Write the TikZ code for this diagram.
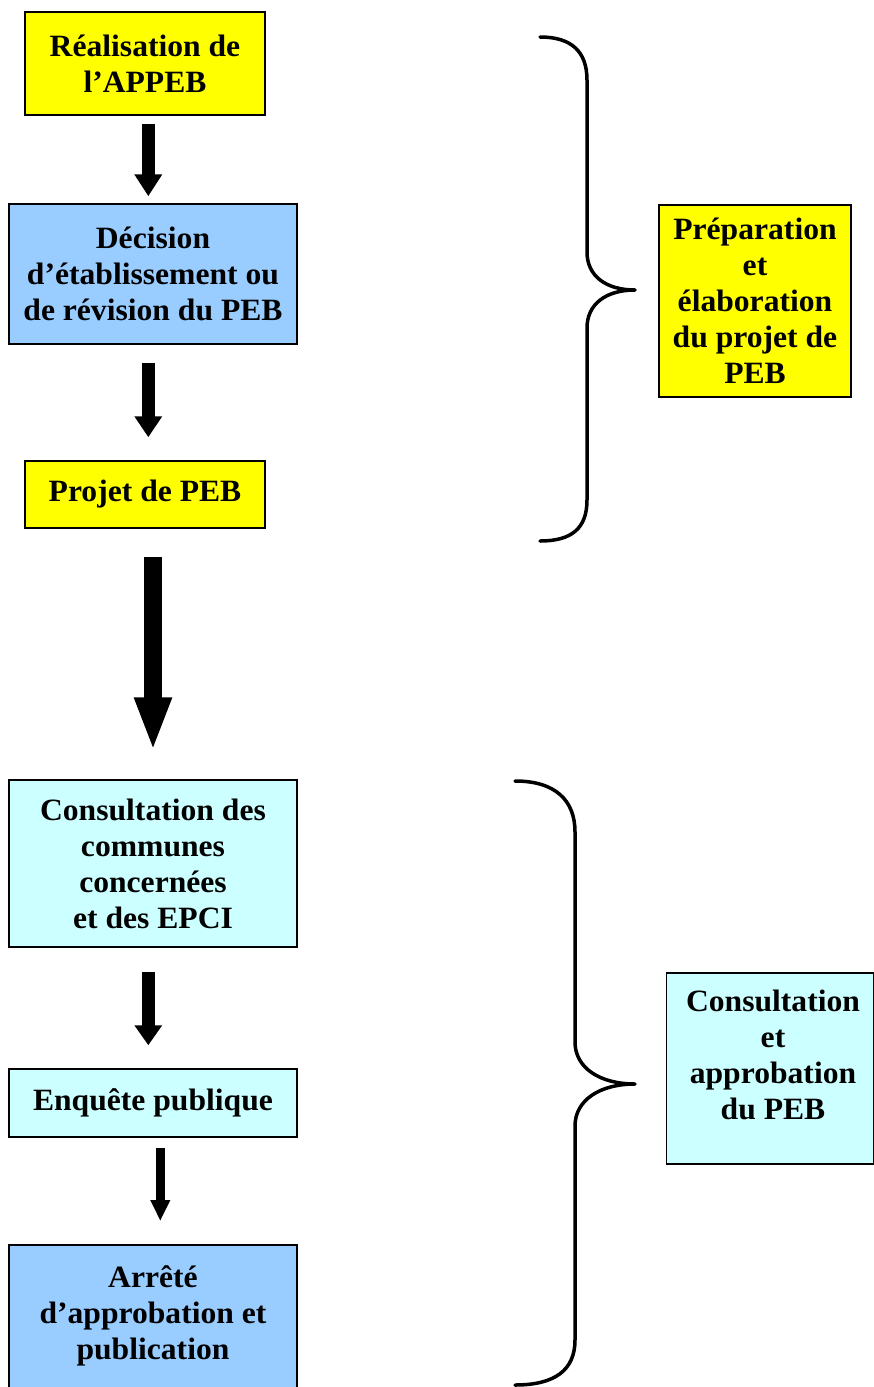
\documentclass[tikz,border=0pt]{standalone}
\usepackage{fontspec}
\setmainfont[FakeStretch=1.02]{Liberation Serif}
\usetikzlibrary{arrows.meta}
\definecolor{cyel}{HTML}{FFFF00}
\definecolor{cblue}{HTML}{99CCFF}
\definecolor{ccyan}{HTML}{CCFFFF}
\tikzset{
  box/.style={draw=black, line width=1.5pt, inner sep=0pt, align=center,
    font=\fontsize{31}{36}\selectfont\bfseries},
  txt/.style={inner sep=0pt, align=center, font=\fontsize{31}{36}\selectfont\bfseries},
  brace/.style={draw=black, line width=3.5pt, line cap=round, line join=round}
}
\begin{document}
\begin{tikzpicture}[x=1pt,y=-1pt]
\useasboundingbox (0,0) rectangle (873,1387);

% left column boxes
\node[box, fill=cyel, minimum width=240, minimum height=103] (b1) at (145,63.5)
  {Réalisation de\\l’APPEB};
\node[box, fill=cblue, minimum width=288, minimum height=140] (b2) at (153,274)
  {Décision\\d’établissement ou\\de révision du PEB};
\node[box, fill=cyel, minimum width=240, minimum height=67] (b3) at (145,494.5)
  {Projet de PEB};
\node[box, fill=ccyan, minimum width=288, minimum height=167] (b4) at (153,863.5)
  {Consultation des\\communes\\concernées\\et des EPCI};
\node[box, fill=ccyan, minimum width=288, minimum height=68] (b5) at (153,1103)
  {Enquête publique};
\node[box, fill=cblue, minimum width=288, minimum height=160, anchor=north] (b6) at (153,1244) {};
\node[txt] (b6t) at (153,1316) {Arrêté\\d’approbation et\\publication};

% right boxes
\node[box, fill=cyel, minimum width=192, minimum height=192] (r1) at (755,301)
  {Préparation\\et\\élaboration\\du projet de\\PEB};
\node[box, fill=ccyan, minimum width=207, minimum height=191, anchor=north west] (r2) at (665.5,972) {};
\node[txt] (r2t) at (773,1055) {Consultation\\et\\approbation\\du PEB};

% block arrows
\draw[line width=13.5pt, -{Triangle[width=26.5pt,length=22pt]}]
  ([xshift=3.3pt,yshift=-8pt]b1.south) -- ([xshift=-4.7pt,yshift=7pt]b2.north);
\draw[line width=13.5pt, -{Triangle[width=26.5pt,length=21pt]}]
  ([xshift=-4.7pt,yshift=-18pt]b2.south) -- ([xshift=3.3pt,yshift=23pt]b3.north);
\draw[line width=18pt, -{Triangle[width=34pt,length=54pt]}]
  ([xshift=8pt,yshift=-28pt]b3.south) -- ([yshift=28pt]b4.north);
\draw[line width=13.5pt, -{Triangle[width=26.5pt,length=20pt]}]
  ([xshift=-4.7pt,yshift=-24pt]b4.south) -- ([xshift=-4.7pt,yshift=23pt]b5.north);
\draw[line width=9.5pt, -{Triangle[width=18.5pt,length=21pt]}]
  ([xshift=7.3pt,yshift=-10.5pt]b5.south) -- ([xshift=7.3pt,yshift=23pt]b6.north);

% braces
\draw[brace] (540,37) .. controls (572,37) and (587,52) .. (587,80)
  -- (587,252) .. controls (587,276) and (606,290) .. (635,290)
  .. controls (606,290) and (587,304) .. (587,328)
  -- (587,500) .. controls (587,528) and (572,541) .. (540,541);
\draw[brace] (515,781) .. controls (555,781) and (575,800) .. (575,832)
  -- (575,1042) .. controls (575,1068) and (600,1084) .. (635,1084)
  .. controls (600,1084) and (575,1100) .. (575,1126)
  -- (575,1340) .. controls (575,1370) and (555,1385) .. (515,1385);
\end{tikzpicture}
\end{document}
